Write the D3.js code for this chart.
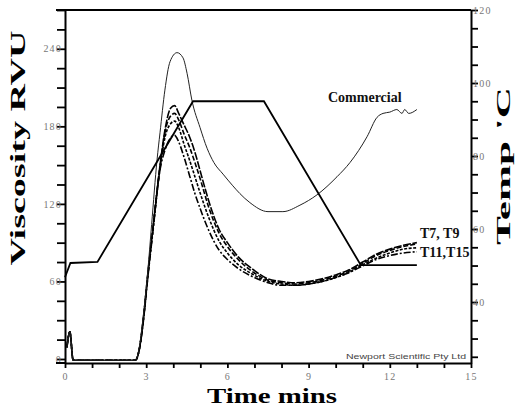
<!doctype html>
<html lang="en">
<head>
  <meta charset="UTF-8">
  <title>RVA viscosity curves</title>
  <style type="text/css">
    body { margin: 0; background: #fff; }
    .tick text { font-family: "Liberation Serif", serif; font-size: 10px; fill: #777; letter-spacing: 1.2px; }
  </style>
  <script src="https://cdn.jsdelivr.net/npm/d3@7/dist/d3.min.js"></script>
</head>
<body>
  <div id="container"></div>
  <script>
    // temperature profile (right axis, 'C)
    var tempTime = [0, 0.2, 1.2, 4.73, 7.35, 10.93, 13.0];
    var tempVal = [46.8, 50.7, 51, 95, 95, 50.1, 50.1];

    // commercial sample (thin line)
    var commTime = [0.07, 0.18, 0.3, 1.0, 2.0, 2.6, 2.75, 2.9, 3.05, 3.2, 3.4, 3.51, 3.69, 3.88, 4.14, 4.36, 4.51, 4.69, 4.99, 5.25, 5.5, 5.84, 6.2, 6.46, 6.83, 7.5, 8.05, 8.68, 9.31, 10.05, 10.53, 11.16, 11.53, 11.75, 12.0, 12.26, 12.45, 12.55, 12.7, 13.0];
    var commVal = [9, 21, -1, -1, -1, -1, 10, 35, 66, 104, 154, 175, 208, 230, 237, 233, 221, 200, 179, 163, 152, 143, 134, 128, 121, 114, 114, 119, 127, 141, 152, 172, 187, 190, 191, 193, 190, 193, 190, 193];

    // test samples (dashed lines)
    var sampleTime = [0.07, 0.18, 0.3, 1.0, 2.0, 2.6, 2.75, 2.9, 3.05, 3.25, 3.5, 3.7, 3.9, 4.05, 4.2, 4.4, 4.6, 4.8, 5.0, 5.3, 5.7, 6.0, 6.4, 6.9, 7.5, 8.0, 8.5, 9.0, 9.5, 10.0, 10.5, 11.0, 11.5, 12.0, 12.5, 13.0];
    var t7Val = [9, 21, -1, -1, -1, -1, 8, 32, 64, 102, 148, 178, 194, 196, 190, 181, 172, 160, 145, 123, 100, 90, 79, 70, 62, 60, 59, 60, 62, 65, 69, 75, 81, 85, 88, 90];
    var t9Val = [9, 21, -1, -1, -1, -1, 8, 32, 63, 101, 147, 176, 188, 190, 185, 174, 164, 152, 139, 118, 97, 87, 77, 68, 61, 59, 58, 59, 61, 64, 68, 74, 80, 84, 87, 89];
    var t11Val = [9, 21, -1, -1, -1, -1, 8, 31, 62, 100, 146, 172, 182, 184, 179, 166, 154, 141, 128, 110, 91, 82, 73, 66, 60, 58, 57, 58, 60, 63, 67, 73, 78, 82, 85, 86];
    var t15Val = [9, 21, -1, -1, -1, -1, 8, 30, 61, 99, 145, 162, 171, 173, 168, 156, 142, 128, 116, 100, 84, 77, 70, 64, 59, 57, 57, 58, 60, 63, 67, 72, 77, 80, 82, 83];

    var xTicks = [0, 3, 6, 9, 12, 15];
    var yTicks = [0, 60, 120, 180, 240];
    var tTicks = [40, 60, 80, 100, 120];

    var width = 516, height = 407;
    var svg = d3.select('#container').append('svg').attr('width', width).attr('height', height);

    var x = d3.scaleLinear().domain([0, 15]).range([65, 471]);
    var y = d3.scaleLinear().domain([-3.1, 270]).range([363, 10]);
    var yT = d3.scaleLinear().domain([23.3, 120]).range([363, 10]);

    // axes
    var xAxis = d3.axisBottom(x).tickValues(d3.range(0, 16, 1)).tickSize(5).tickSizeOuter(0).tickPadding(5)
      .tickFormat(function (d) { return xTicks.indexOf(d) >= 0 ? d : ''; });
    var yAxis = d3.axisLeft(y).tickValues(d3.range(0, 271, 15)).tickSize(8).tickSizeOuter(0).tickPadding(-5)
      .tickFormat(function (d) { return yTicks.indexOf(d) >= 0 ? d : ''; });
    var tAxis = d3.axisRight(yT).tickValues(d3.range(25, 121, 5)).tickSize(7).tickSizeOuter(0).tickPadding(-5)
      .tickFormat(function (d) { return tTicks.indexOf(d) >= 0 ? d : ''; });

    var gx = svg.append('g').attr('transform', 'translate(0,363)').call(xAxis);
    var gy = svg.append('g').attr('transform', 'translate(65,0)').call(yAxis);
    var gt = svg.append('g').attr('transform', 'translate(471,0)').call(tAxis);
    [gx, gy, gt].forEach(function (g) {
      g.selectAll('.domain').attr('stroke', '#000').attr('stroke-width', 2);
      g.selectAll('.tick line').attr('stroke', '#000').attr('stroke-width', 1.8);
    });
    gy.selectAll('.tick text').attr('text-anchor', 'end');
    gt.selectAll('.tick text').attr('text-anchor', 'start');

    // top frame line and bottom-left stub
    svg.append('line').attr('x1', 56).attr('x2', 471).attr('y1', 10).attr('y2', 10)
      .attr('stroke', '#000').attr('stroke-width', 2);
    svg.append('line').attr('x1', 56).attr('x2', 65).attr('y1', 363).attr('y2', 363)
      .attr('stroke', '#000').attr('stroke-width', 2);

    // lines
    function zip(ts, vs) { return ts.map(function (t, i) { return [t, vs[i]]; }); }
    var visLine = d3.line().x(function (d) { return x(d[0]); }).y(function (d) { return y(d[1]); })
      .curve(d3.curveMonotoneX);
    var tempLine = d3.line().x(function (d) { return x(d[0]); }).y(function (d) { return yT(d[1]); });

    var samples = [
      { v: t15Val, dash: '7,2,2,2' },
      { v: t11Val, dash: '3,1.5' },
      { v: t9Val, dash: '5,2' },
      { v: t7Val, dash: '8,1.5' }
    ];
    samples.forEach(function (s) {
      svg.append('path').attr('d', visLine(zip(sampleTime, s.v)))
        .attr('fill', 'none').attr('stroke', '#000').attr('stroke-width', 1.6)
        .attr('stroke-dasharray', s.dash);
    });
    svg.append('path').attr('d', visLine(zip(commTime, commVal)))
      .attr('fill', 'none').attr('stroke', '#222').attr('stroke-width', 1);
    svg.append('path').attr('d', tempLine(zip(tempTime, tempVal)))
      .attr('fill', 'none').attr('stroke', '#000').attr('stroke-width', 1.8);

    // titles
    svg.append('text').attr('transform', 'translate(25,148) rotate(-90)')
      .attr('text-anchor', 'middle').attr('font-family', 'Liberation Serif, serif')
      .attr('font-weight', 'bold').attr('font-size', 20)
      .attr('textLength', 235).attr('lengthAdjust', 'spacingAndGlyphs').text('Viscosity RVU');
    svg.append('text').attr('transform', 'translate(510,166) rotate(-90)')
      .attr('text-anchor', 'middle').attr('font-family', 'Liberation Serif, serif')
      .attr('font-weight', 'bold').attr('font-size', 19)
      .attr('textLength', 158).attr('lengthAdjust', 'spacingAndGlyphs').text("Temp 'C");
    svg.append('text').attr('x', 272).attr('y', 403)
      .attr('text-anchor', 'middle').attr('font-family', 'Liberation Serif, serif')
      .attr('font-weight', 'bold').attr('font-size', 21)
      .attr('textLength', 130).attr('lengthAdjust', 'spacingAndGlyphs').text('Time mins');

    // annotations
    var ann = [
      { t: 'Commercial', x: 328, y: 102 },
      { t: 'T7, T9', x: 420, y: 238 },
      { t: 'T11,T15', x: 420, y: 257 }
    ];
    ann.forEach(function (a) {
      svg.append('text').attr('x', a.x).attr('y', a.y)
        .attr('font-family', 'Liberation Serif, serif').attr('font-weight', 'bold')
        .attr('font-size', 14).attr('fill', '#111').text(a.t);
    });
    svg.append('text').attr('x', 346).attr('y', 359)
      .attr('font-family', 'Liberation Sans, Arial, sans-serif').attr('font-size', 8)
      .attr('fill', '#444').attr('textLength', 120).attr('lengthAdjust', 'spacingAndGlyphs')
      .text('Newport Scientific Pty Ltd');
  </script>
</body>
</html>
